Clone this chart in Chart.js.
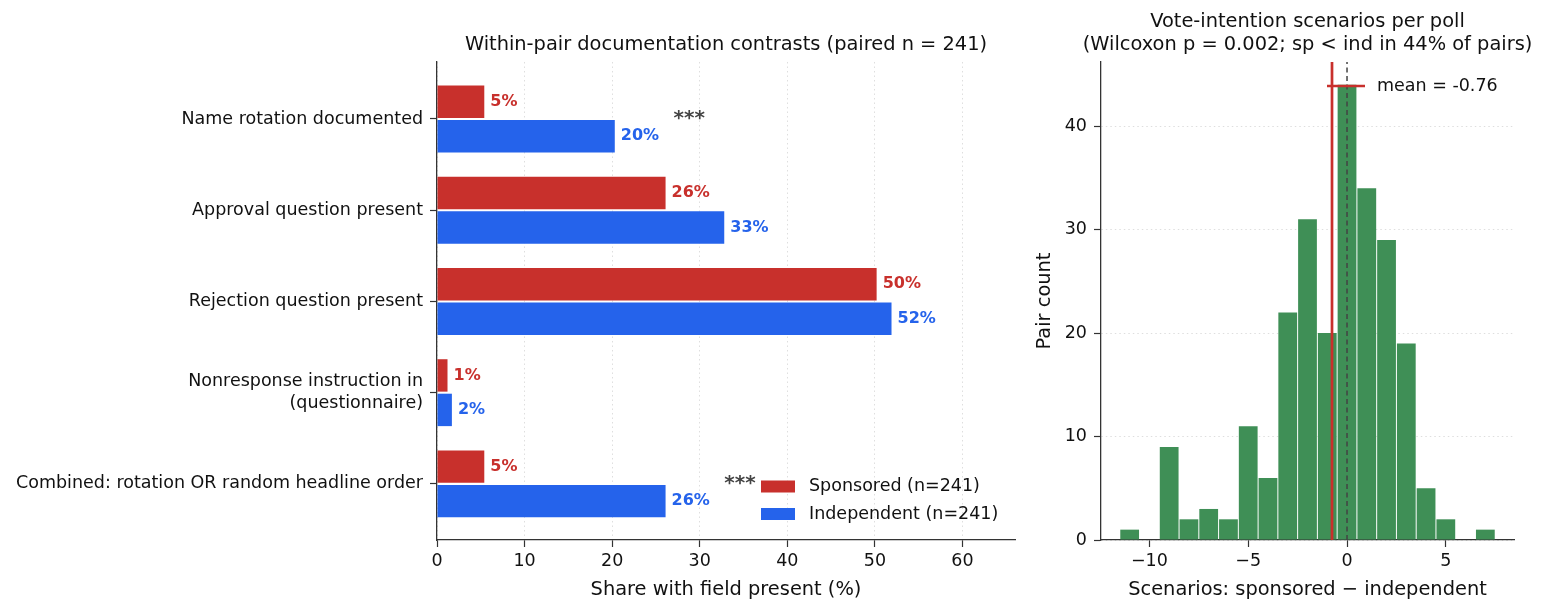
<!DOCTYPE html>
<html>
<head>
<meta charset="utf-8">
<script src="https://cdn.jsdelivr.net/npm/chart.js@4.4.1/dist/chart.umd.min.js"></script>
<style>
  html, body { margin: 0; padding: 0; background: #fff; }
  #leftBox { position: absolute; left: 0; top: 0; }
  #rightBox { position: absolute; left: 1030px; top: 0; }
</style>
</head>
<body>
<div id="leftBox"><canvas id="left" width="1030" height="613"></canvas></div>
<div id="rightBox"><canvas id="right" width="517" height="613"></canvas></div>
<script>
// left panel: share of polls with each field documented (%)
const fields = [
  "Name rotation documented",
  "Approval question present",
  "Rejection question present",
  "Nonresponse instruction in\n(questionnaire)",
  "Combined: rotation OR random headline order"
];
const sponsored = [5.4, 26.1, 50.2, 1.2, 5.4];
const independent = [20.3, 32.8, 51.9, 1.7, 26.1];
const sigMarks = ["***", "", "", "", "***"];
const xTicksLeft = [0, 10, 20, 30, 40, 50, 60];

// right panel: histogram of scenario differences
const diffBins = [-11, -10, -9, -8, -7, -6, -5, -4, -3, -2, -1, 0, 1, 2, 3, 4, 5, 6, 7];
const pairCounts = [1, 0, 9, 2, 3, 2, 11, 6, 22, 31, 20, 44, 34, 29, 19, 5, 2, 0, 1];
const meanDiff = -0.76;
const rightTitle = ["Vote-intention scenarios per poll", "(Wilcoxon p = 0.002; sp < ind in 44% of pairs)"];

const RED = "#c8302c";
const BLUE = "#2563eb";
const GREEN = "#3f8f56";
const AXIS = "#333";
const GRID = "rgba(0,0,0,0.13)";

Chart.defaults.font.family = '"DejaVu Sans", sans-serif';
Chart.defaults.color = "#111";

const tickFont = { size: 17.5 };
const titleFont = { size: 19.4 };
const minus = v => (v < 0 ? "\u2212" + Math.abs(v) : String(v));

// value labels, significance stars and legend for the left panel
const leftExtras = {
  id: "leftExtras",
  afterDatasetsDraw(chart) {
    const ctx = chart.ctx;
    const xs = chart.scales.x, ys = chart.scales.y;
    const area = chart.chartArea;
    ctx.save();
    ctx.textBaseline = "middle";
    ctx.font = 'bold 16px "DejaVu Sans"';
    chart.data.datasets.forEach((ds, di) => {
      const vals = di === 0 ? sponsored : independent;
      chart.getDatasetMeta(di).data.forEach((bar, i) => {
        ctx.fillStyle = ds.backgroundColor;
        ctx.fillText(Math.round(vals[i]) + "%", bar.x + 6, bar.y);
      });
    });

    ctx.font = 'bold 20px "DejaVu Sans"';
    ctx.fillStyle = "#444";
    ctx.textAlign = "center";
    sigMarks.forEach((m, i) => {
      if (!m) return;
      const top = Math.max(sponsored[i], independent[i]);
      ctx.fillText(m, xs.getPixelForValue(top + 8.5), ys.getPixelForValue(i));
    });

    // legend
    ctx.textAlign = "left";
    ctx.font = '17.5px "DejaVu Sans"';
    const rows = [
      { c: RED, t: "Sponsored (n=241)", y: area.bottom - 53.5 },
      { c: BLUE, t: "Independent (n=241)", y: area.bottom - 26 }
    ];
    rows.forEach(r => {
      ctx.fillStyle = r.c;
      ctx.fillRect(area.right - 254, r.y - 6, 34, 12);
      ctx.fillStyle = "#111";
      ctx.fillText(r.t, area.right - 206, r.y);
    });
    ctx.restore();
  }
};

new Chart(document.getElementById("left"), {
  type: "bar",
  data: {
    datasets: [
      {
        label: "Sponsored (n=241)",
        data: sponsored.map((v, i) => ({ x: v, y: i })),
        backgroundColor: RED,
        categoryPercentage: 0.756,
        barPercentage: 0.94
      },
      {
        label: "Independent (n=241)",
        data: independent.map((v, i) => ({ x: v, y: i })),
        backgroundColor: BLUE,
        categoryPercentage: 0.756,
        barPercentage: 0.94
      }
    ]
  },
  options: {
    indexAxis: "y",
    responsive: false,
    animation: false,
    layout: { padding: { left: 0, right: 15, top: 0, bottom: 0 } },
    plugins: {
      legend: { display: false },
      tooltip: { enabled: false },
      title: {
        display: true,
        fullSize: false,
        text: "Within-pair documentation contrasts (paired n = 241)",
        font: { size: 19.4, weight: "normal" },
        color: "#111",
        padding: { top: 33.4, bottom: 5.3 }
      }
    },
    scales: {
      x: {
        type: "linear",
        min: 0,
        max: 66,
        afterBuildTicks: s => { s.ticks = xTicksLeft.map(v => ({ value: v })); },
        ticks: { font: tickFont, padding: 4 },
        grid: { color: GRID, lineWidth: 1, tickLength: 7, tickColor: AXIS, tickWidth: 1.2 },
        border: { color: AXIS, width: 1.3, dash: [1.5, 3] },
        title: {
          display: true,
          text: "Share with field present (%)",
          font: titleFont,
          padding: { top: 0, bottom: 11.4 }
        },
        afterFit: s => { s.height = 73; }
      },
      y: {
        type: "linear",
        reverse: true,
        offset: false,
        min: -0.625,
        max: 4.615,
        afterBuildTicks: s => { s.ticks = fields.map((_, i) => ({ value: i })); },
        ticks: {
          font: { size: 17.5, lineHeight: 1.25 },
          padding: 7,
          autoSkip: false,
          callback: v => fields[v] ? fields[v].split("\n") : ""
        },
        grid: { offset: false, drawOnChartArea: false, tickLength: 7, tickColor: AXIS, tickWidth: 1.2, color: AXIS },
        border: { color: AXIS, width: 1.3 },
        afterFit: s => { s.width = 437; }
      }
    }
  },
  plugins: [leftExtras]
});

// title over the axes (it is wider than them) and legend entry for the mean line
const rightExtras = {
  id: "rightExtras",
  afterDatasetsDraw(chart) {
    const ctx = chart.ctx;
    const area = chart.chartArea;
    ctx.save();
    ctx.fillStyle = "#111";
    ctx.textBaseline = "middle";
    ctx.textAlign = "center";
    ctx.font = '19.4px "DejaVu Sans"';
    const cx = (area.left + area.right) / 2;
    rightTitle.forEach((t, i) => ctx.fillText(t, cx, 22 + i * 23.3));

    const y = area.top + 24;
    ctx.strokeStyle = RED;
    ctx.lineWidth = 2.7;
    ctx.beginPath();
    ctx.moveTo(area.right - 187, y);
    ctx.lineTo(area.right - 149, y);
    ctx.stroke();
    ctx.textAlign = "left";
    ctx.font = '17.5px "DejaVu Sans"';
    ctx.fillText("mean = " + meanDiff.toFixed(2), area.right - 137, y);
    ctx.restore();
  }
};

const yTop = 46.2;
new Chart(document.getElementById("right"), {
  type: "bar",
  data: {
    datasets: [
      {
        type: "bar",
        data: diffBins.map((b, i) => ({ x: b, y: pairCounts[i] })),
        backgroundColor: GREEN,
        categoryPercentage: 1,
        barPercentage: 0.95,
        order: 3
      },
      {
        type: "line",
        data: [{ x: 0, y: 0 }, { x: 0, y: yTop }],
        borderColor: "#444",
        borderWidth: 1.5,
        borderDash: [5, 3.5],
        pointRadius: 0,
        order: 2
      },
      {
        type: "line",
        data: [{ x: meanDiff, y: 0 }, { x: meanDiff, y: yTop }],
        borderColor: RED,
        borderWidth: 2.7,
        pointRadius: 0,
        order: 1
      }
    ]
  },
  options: {
    responsive: false,
    animation: false,
    layout: { padding: { left: 0, right: 33, top: 62, bottom: 0 } },
    plugins: {
      legend: { display: false },
      tooltip: { enabled: false },
      title: { display: false }
    },
    scales: {
      x: {
        type: "linear",
        offset: false,
        min: -12.45,
        max: 8.45,
        ticks: { stepSize: 5, includeBounds: false, font: tickFont, padding: 4, callback: minus },
        grid: { offset: false, drawOnChartArea: false, tickLength: 7, tickColor: AXIS, tickWidth: 1.2, color: AXIS },
        border: { color: AXIS, width: 1.3 },
        title: {
          display: true,
          text: "Scenarios: sponsored \u2212 independent",
          font: titleFont,
          padding: { top: 0, bottom: 11.4 }
        },
        afterFit: s => { s.height = 73; }
      },
      y: {
        type: "linear",
        min: 0,
        max: yTop,
        ticks: { stepSize: 10, includeBounds: false, font: tickFont, padding: 7 },
        grid: { color: GRID, lineWidth: 1, tickLength: 7, tickColor: AXIS, tickWidth: 1.2 },
        border: { color: AXIS, width: 1.3, dash: [1.5, 3] },
        title: {
          display: true,
          text: "Pair count",
          font: titleFont,
          padding: { top: 3.4, bottom: 0 }
        },
        afterFit: s => { s.width = 71; }
      }
    }
  },
  plugins: [rightExtras]
});
</script>
</body>
</html>
